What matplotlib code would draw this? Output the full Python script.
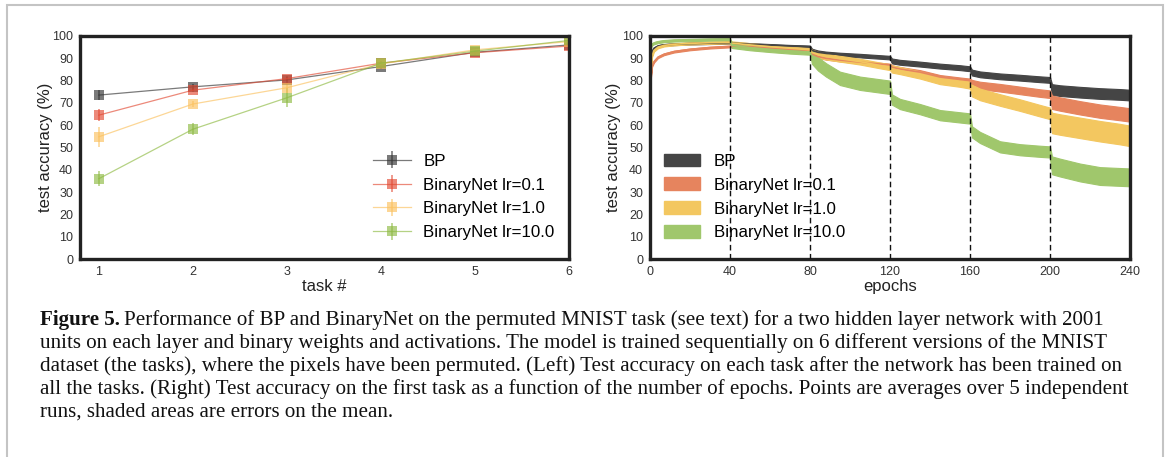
import matplotlib
matplotlib.use("Agg")
import matplotlib.pyplot as plt
from matplotlib.patches import Patch, Rectangle
import numpy as np

# ---------------- data ----------------
tasks = [1, 2, 3, 4, 5, 6]
series_names = ["BP", "BinaryNet lr=0.1", "BinaryNet lr=1.0", "BinaryNet lr=10.0"]

bp_task = [73.5, 77.2, 80.3, 86.3, 92.7, 96.0]
bp_task_err = [2.2, 1.3, 1.5, 1.2, 0.8, 0.5]
bn01_task = [64.5, 75.7, 80.9, 87.8, 92.5, 95.5]
bn01_task_err = [2.8, 1.0, 1.3, 0.8, 0.8, 0.5]
bn1_task = [54.8, 69.5, 76.8, 87.5, 93.8, 97.5]
bn1_task_err = [4.4, 1.3, 2.5, 1.0, 0.8, 0.5]
bn10_task = [36.0, 58.2, 72.3, 87.8, 93.2, 98.0]
bn10_task_err = [3.4, 2.8, 4.3, 1.0, 0.8, 0.5]

epochs = [0, 0.5, 1, 2, 4, 7, 12, 20, 30, 40,
          41, 50, 60, 70, 80,
          81, 84, 88, 95, 105, 115, 120,
          121, 125, 135, 145, 155, 160,
          161, 165, 175, 185, 195, 200,
          201, 205, 215, 225, 235, 240]

bp_ep = [80, 90, 93, 94.5, 95.5, 96, 96.3, 96.6, 96.8, 97,
         96.8, 96.3, 95.9, 95.5, 95.2,
         93.5, 92.7, 92.2, 91.7, 91.2, 90.6, 90.3,
         88.8, 88.2, 87.4, 86.5, 85.8, 85.3,
         83.6, 82.8, 81.9, 81.3, 80.6, 80.3,
         76.0, 75.5, 74.8, 74.2, 73.8, 73.5]
bp_ep_err = [0.4] * 10 + [0.5] * 5 + [0.8] * 7 + [1.1] * 6 + [1.3] * 6 + [2.4] * 6

bn01_ep = [70, 82, 86.5, 88.5, 90.5, 91.8, 93, 94, 94.8, 95.3,
           95.5, 95.2, 94.6, 94.0, 93.5,
           92.0, 90.8, 90.0, 89.2, 88.3, 87.4, 87.0,
           86.0, 85.2, 83.8, 81.6, 80.5, 80.0,
           78.6, 77.8, 76.8, 75.6, 74.4, 73.9,
           70.3, 69.5, 67.8, 66.3, 65.2, 64.6]
bn01_ep_err = [0.4] * 10 + [0.6] * 5 + [0.6] * 7 + [0.9] * 6 + [1.7] * 6 + [3.0] * 6

bn1_ep = [55, 85, 91, 93.5, 95, 95.8, 96.3, 96.7, 97, 97.2,
          96.8, 96.0, 95.2, 94.5, 93.8,
          92.6, 91.6, 90.8, 89.8, 88.5, 86.8, 86.0,
          85.2, 84.5, 82.5, 80.0, 78.8, 78.0,
          75.5, 73.8, 71.3, 69.0, 66.5, 65.3,
          61.0, 60.3, 58.8, 57.3, 56.0, 55.2]
bn1_ep_err = [0.5] * 10 + [0.8] * 5 + [1.3] * 7 + [1.6] * 6 + [2.6] * 6 + [4.6] * 6

bn10_ep = [92, 95, 96.2, 96.8, 97.3, 97.7, 98, 98.2, 98.4, 98.5,
           95.8, 94.8, 94.0, 93.3, 92.8,
           90.5, 87.5, 84.8, 81.0, 78.8, 77.6, 77.0,
           71.5, 69.5, 67.2, 64.5, 63.5, 63.0,
           57.0, 54.5, 50.3, 49.0, 48.3, 48.0,
           42.0, 41.0, 38.8, 37.2, 36.8, 36.6]
bn10_ep_err = [0.5] * 10 + [1.2] * 5 + [3.0] * 7 + [2.3] * 6 + [2.5] * 6 + [4.0] * 6

task_boundaries = [40, 80, 120, 160, 200]

caption_lines = [
    "Performance of BP and BinaryNet on the permuted MNIST task (see text) for a two hidden layer network with 2001",
    "units on each layer and binary weights and activations. The model is trained sequentially on 6 different versions of the MNIST",
    "dataset (the tasks), where the pixels have been permuted. (Left) Test accuracy on each task after the network has been trained on",
    "all the tasks. (Right) Test accuracy on the first task as a function of the number of epochs. Points are averages over 5 independent",
    "runs, shaded areas are errors on the mean.",
]

# ---------------- style ----------------
plt.rcParams['font.family'] = ['Liberation Sans', 'DejaVu Sans']
W, H = 1170, 457
fig = plt.figure(figsize=(W / 100, H / 100), dpi=100)
fig.patch.set_facecolor('white')

line_colors = ['#333333', '#E24A33', '#FBC15E', '#8EBA42']
fill_colors = ['#454545', '#E6845E', '#F3C760', '#A0C76C']

def style_ax(ax):
    for s in ax.spines.values():
        s.set_linewidth(2.4)
        s.set_color('#222222')
    ax.tick_params(length=0, labelsize=9, colors='#333333', pad=5)
    ax.set_ylim(0, 100)
    ax.set_yticks(range(0, 101, 10))

# ---------------- left ----------------
ax1 = fig.add_axes([80 / W, 1 - 259 / H, 489 / W, 223 / H])
style_ax(ax1)
task_vals = [bp_task, bn01_task, bn1_task, bn10_task]
task_errs = [bp_task_err, bn01_task_err, bn1_task_err, bn10_task_err]
handles = []
for vals, errs, c, name in zip(task_vals, task_errs, line_colors, series_names):
    h = ax1.errorbar(tasks, vals, yerr=errs, fmt='s-', color=c, ecolor=c,
                     lw=0.9, ms=6.5, mew=0, alpha=0.65, elinewidth=1.2,
                     capsize=4, capthick=1.2, label=name)
    handles.append(h)
ax1.set_xlim(0.8, 6.0)
ax1.set_xticks(tasks)
ax1.set_xlabel("task #", fontsize=12, color='#222222', labelpad=1)
ax1.set_ylabel("test accuracy (%)", fontsize=12, color='#222222', labelpad=-1)
ax1.legend(handles=handles, loc='center left', bbox_to_anchor=(0.6, 0.278),
           frameon=False, fontsize=12.2, borderpad=0, borderaxespad=0,
           handlelength=2.2, handletextpad=0.75, labelspacing=0.52)

# ---------------- right ----------------
ax2 = fig.add_axes([650 / W, 1 - 259 / H, 480 / W, 223 / H])
style_ax(ax2)
ep_vals = [bp_ep, bn01_ep, bn1_ep, bn10_ep]
ep_errs = [bp_ep_err, bn01_ep_err, bn1_ep_err, bn10_ep_err]
ep = np.array(epochs)
for vals, errs, c in zip(ep_vals, ep_errs, fill_colors):
    v = np.array(vals)
    e = np.array(errs)
    ax2.fill_between(ep, v - e, v + e, color=c, lw=0.8, edgecolor=c)
    ax2.plot(ep, v, color=c, lw=1.2)
for b in task_boundaries:
    ax2.axvline(b, color='#111111', lw=1.0, ls=(0, (4, 2.5)), zorder=5)
ax2.set_xlim(0, 240)
ax2.set_xticks(range(0, 241, 40))
ax2.set_xlabel("epochs", fontsize=12, color='#222222', labelpad=1)
ax2.set_ylabel("test accuracy (%)", fontsize=12, color='#222222', labelpad=1)
patches = [Patch(facecolor=c, edgecolor=c, label=n) for c, n in zip(fill_colors, series_names)]
ax2.legend(handles=patches, loc='center left', bbox_to_anchor=(0.029, 0.278),
           frameon=False, fontsize=12.2, borderpad=0, borderaxespad=0,
           handlelength=2.1, handleheight=0.75, handletextpad=0.85, labelspacing=0.52)

# ---------------- frame & caption ----------------
fig.add_artist(Rectangle((7 / W, -0.2), (1163 - 7) / W, 1.2 - 4.5 / H,
                         transform=fig.transFigure, fill=False,
                         edgecolor='#c4c4c4', lw=1.5))

cap_font = ['Liberation Serif', 'DejaVu Serif']
cap_size = 15.1
x0 = 40 / W
ys = [320, 343, 366, 389, 412]
fig.canvas.draw()
r = fig.canvas.get_renderer()
bold = fig.text(x0, 1 - ys[0] / H, "Figure 5.", fontsize=cap_size, family=cap_font,
                weight='bold', va='center', ha='left', color='#111111')
bb = bold.get_window_extent(renderer=r)
for i, (line, y) in enumerate(zip(caption_lines, ys)):
    xs = (bb.x1 + 4) / W if i == 0 else x0
    fig.text(xs, 1 - y / H, line, fontsize=cap_size, family=cap_font,
             va='center', ha='left', color='#111111')

fig.savefig("out.png", dpi=100, facecolor='white')
